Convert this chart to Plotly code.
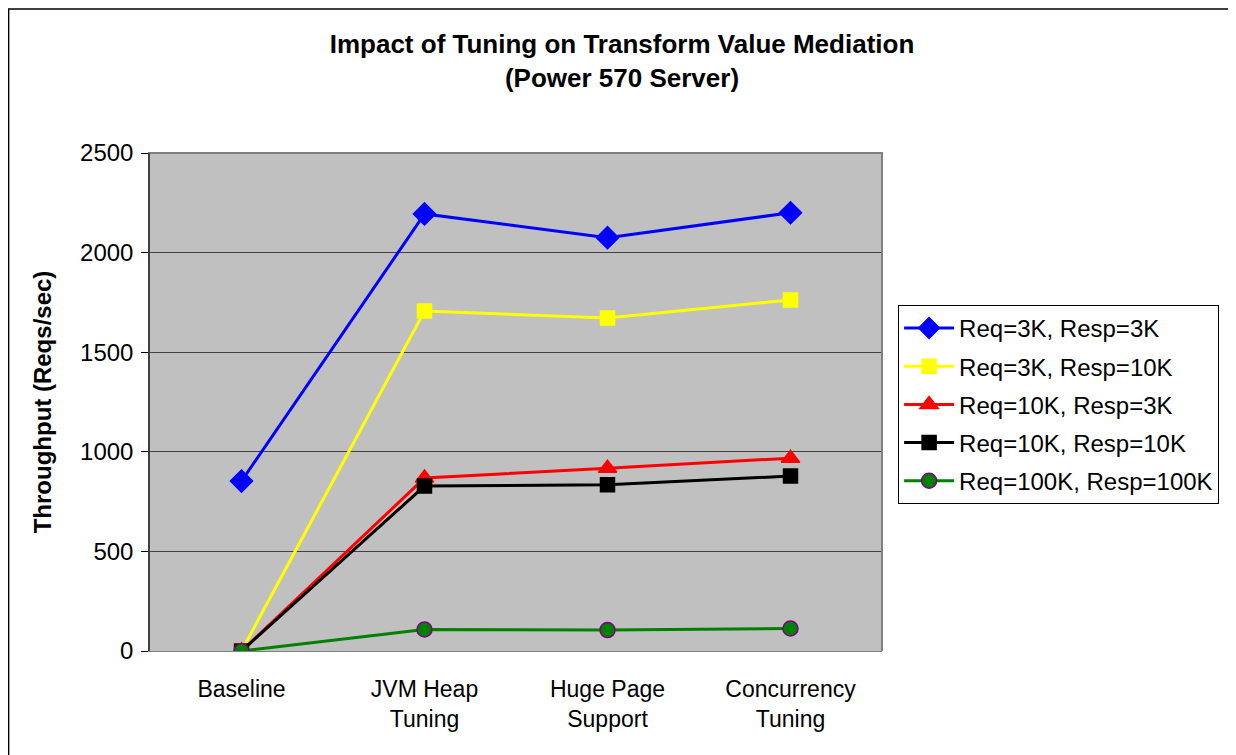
import plotly.graph_objects as go

categories = ["Baseline", "JVM Heap<br>Tuning", "Huge Page<br>Support", "Concurrency<br>Tuning"]

req3k_resp3k = [853, 2194, 2075, 2200]
req3k_resp10k = [0, 1707, 1672, 1762]
req10k_resp3k = [0, 868, 918, 968]
req10k_resp10k = [0, 828, 834, 878]
req100k_resp100k = [0, 108, 105, 113]

series = [
    ("Req=3K, Resp=3K", req3k_resp3k, "#0000FF", "diamond", 17, "#0000FF"),
    ("Req=3K, Resp=10K", req3k_resp10k, "#FFFF00", "square", 14, "#FFFF00"),
    ("Req=10K, Resp=3K", req10k_resp3k, "#FF0000", "triangle-up", 16, "#FF0000"),
    ("Req=10K, Resp=10K", req10k_resp10k, "#000000", "square", 14, "#000000"),
    ("Req=100K, Resp=100K", req100k_resp100k, "#008000", "circle", 15, "#800080"),
]

fig = go.Figure()
for i, (name, vals, color, symbol, size, outline) in enumerate(series):
    fig.add_trace(go.Scatter(
        x=categories, y=vals, name=name, mode="lines+markers",
        legendgroup=f"g{i}",
        line=dict(color=color, width=3),
        marker=dict(symbol=symbol, size=size, color=color,
                    line=dict(color=outline, width=1.5)),
    ))

# page body has an 8px margin, so the figure is 8px smaller and margins shifted
font = "Arial, Liberation Sans, sans-serif"
fig.update_layout(
    width=1228, height=747,
    paper_bgcolor="white", plot_bgcolor="#C0C0C0",
    margin=dict(l=142, r=354, t=145, b=104),
    font=dict(family=font, size=22, color="black"),
    title=dict(text="<b>Impact of Tuning on Transform Value Mediation<br>(Power 570 Server)</b>",
               x=0.5, xref="container", y=0.94, yanchor="middle",
               font=dict(size=26, family=font)),
    showlegend=True,
    legend=dict(x=1.022, y=0.695, xanchor="left", yanchor="top",
                bgcolor="white", bordercolor="black", borderwidth=1,
                font=dict(size=24, family=font), tracegroupgap=4,
                traceorder="grouped", itemwidth=50),
    xaxis=dict(range=[-0.5, 3.5], showgrid=False, showline=True, linecolor="#808080",
               mirror=True, ticks="", tickfont=dict(size=23), automargin=False,
               ticklabelstandoff=17),
    yaxis=dict(range=[0, 2500], dtick=500, showgrid=True, gridcolor="#404040", gridwidth=1,
               showline=True, linecolor="#404040", linewidth=1.5, mirror=False,
               ticks="outside", ticklen=7, tickcolor="black", zeroline=False,
               tickfont=dict(size=24), automargin=False, ticklabelstandoff=3,
               title=dict(text="<b>Throughput (Reqs/sec)</b>", font=dict(size=24), standoff=22)),
)

fig.add_shape(type="rect", xref="paper", yref="paper",
              x0=(1 - 142) / 730, x1=(1224 - 142) / 730,
              y0=(643 - 760) / 498, y1=(643 - 1) / 498,
              line=dict(color="black", width=1.5), fillcolor="rgba(0,0,0,0)", layer="below")
# gray frame on top and right edges of the plot area
fig.add_shape(type="path", xref="paper", yref="paper",
              path="M 0,1 L 1,1 L 1,0", line=dict(color="#808080", width=2))

fig.write_html("out.html")
